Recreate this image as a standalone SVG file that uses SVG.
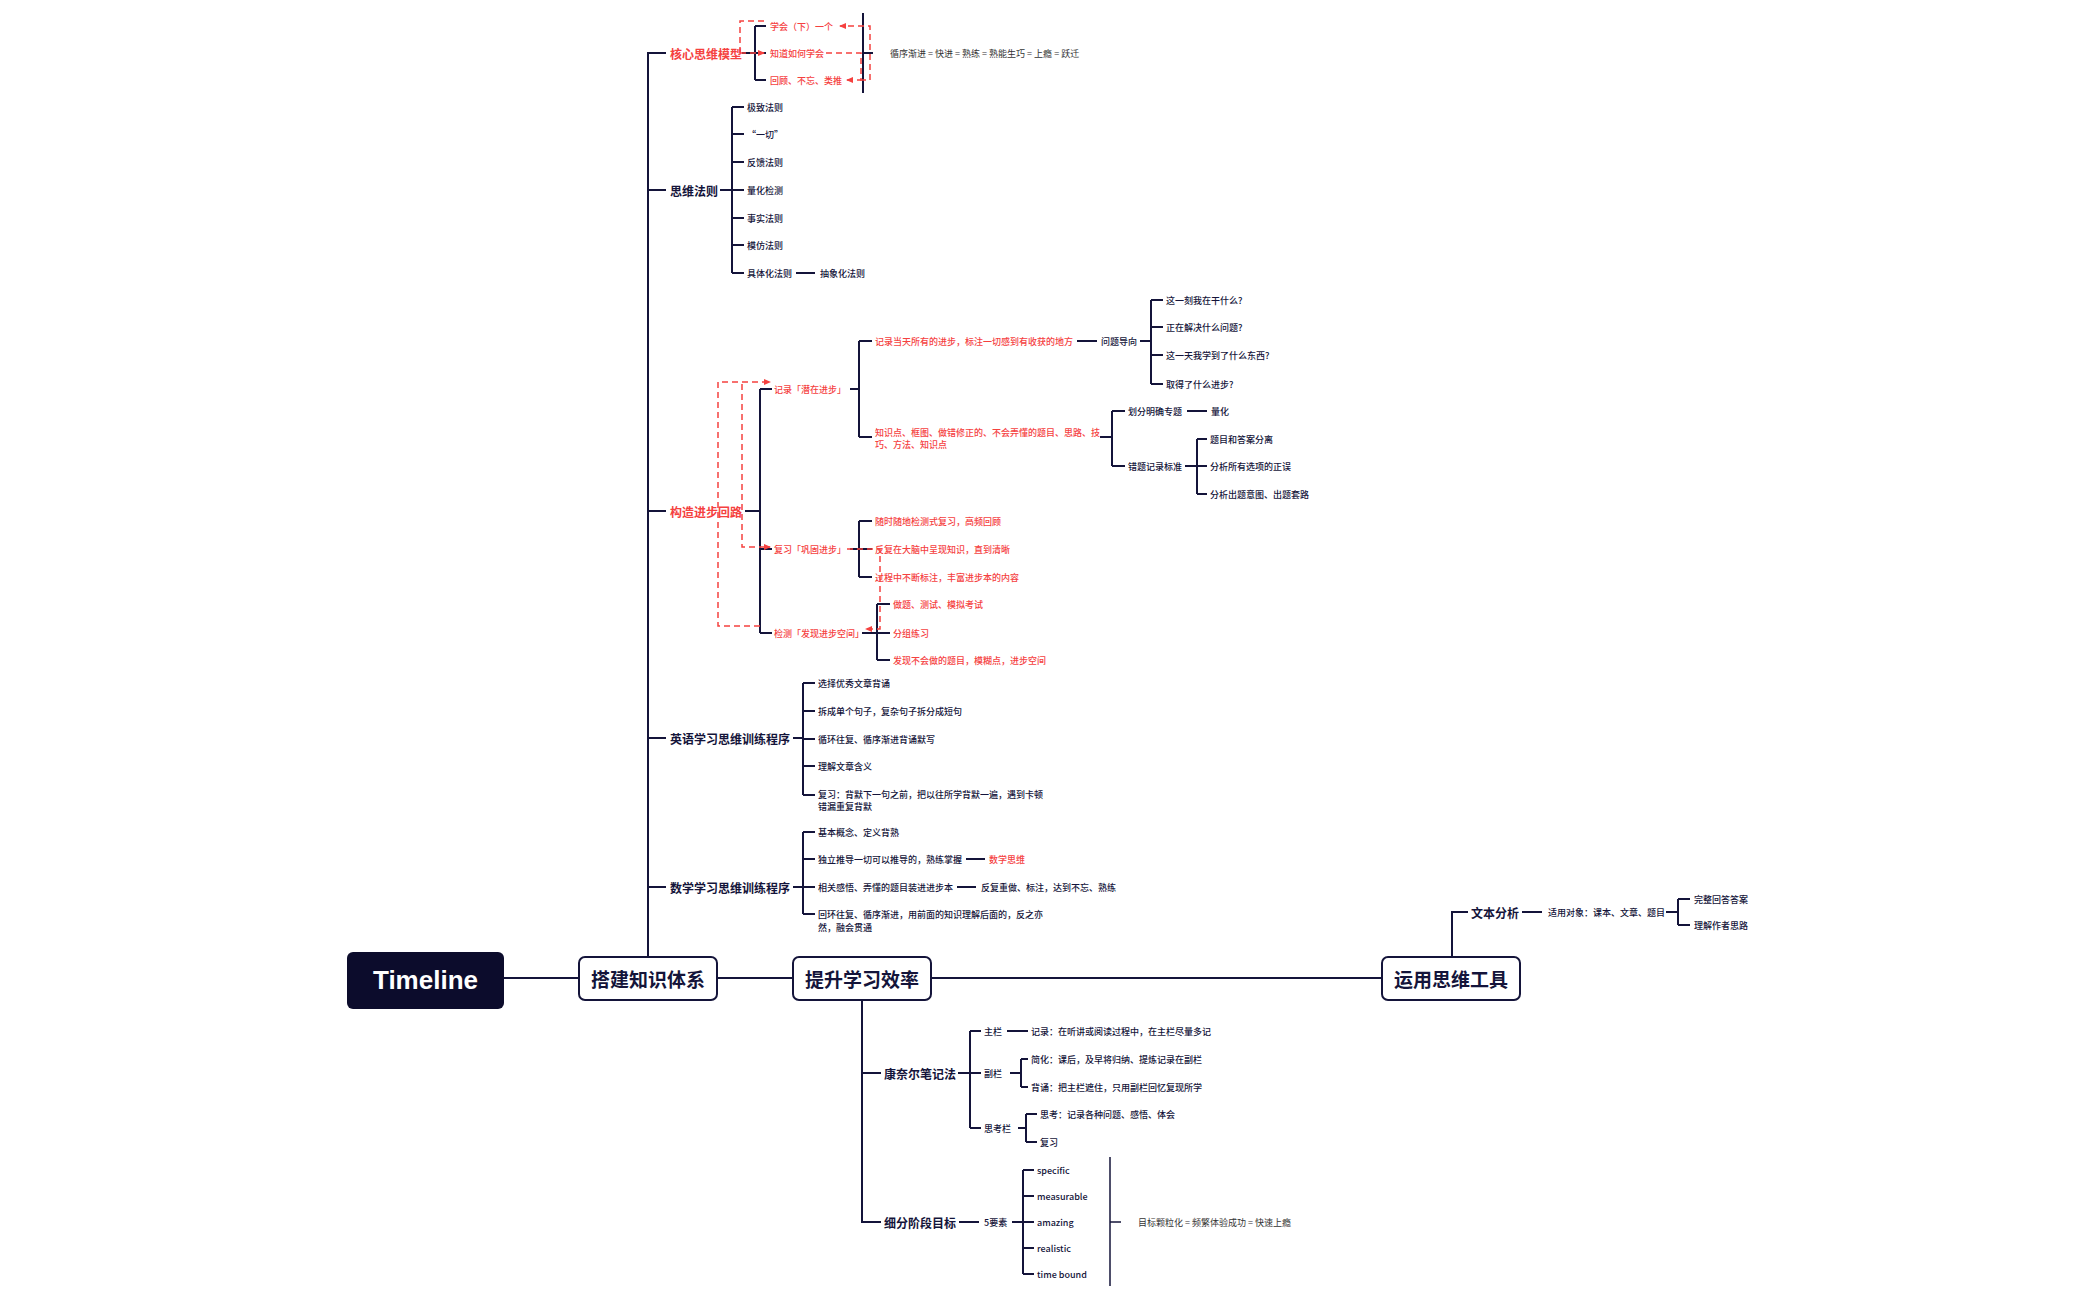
<svg xmlns="http://www.w3.org/2000/svg" width="2100" height="1299" viewBox="0 0 2100 1299">
<style>
text{font-family:"Noto Sans CJK SC","Liberation Sans",sans-serif;dominant-baseline:central;fill:#14143a}
.s{font-size:9px;font-weight:500}
.m{font-size:12px;font-weight:700}
.r{fill:#f5413f}
.g{fill:#333;font-weight:400}
.b{font-size:19px;font-weight:700;text-anchor:middle}
.ln{fill:none;stroke:#14143a;stroke-width:2}
.ln1{fill:none;stroke:#14143a;stroke-width:1.5}
.d{fill:none;stroke:#f5413f;stroke-width:1.5;stroke-dasharray:6 4}
</style>
<defs><marker id="a" markerWidth="8" markerHeight="8" refX="6" refY="4" orient="auto" markerUnits="userSpaceOnUse"><path d="M0,1 L7,4 L0,7 Z" fill="#f5413f"/></marker></defs>
<rect width="2100" height="1299" fill="#fff"/>
<g id="connectors">
<path class="ln" d="M504,978H579M717,978H793M931,978H1382"/>
<path class="ln" d="M648,957V53H666M648,190H666M648,511H666M648,738H666M648,887H666"/>
<path class="ln" d="M742,53H755M755,26V80M755,26H766M755,53H766M755,80H766"/>
<path class="ln" d="M863,13V93M863,53H873"/>
<path class="ln" d="M720,190H732M732,107V273M732,107H744M732,134H744M732,162H744M732,190H744M732,218H744M732,245H744M732,273H744M796,273H815"/>
<path class="ln" d="M745,511H760M760,389V633M760,389H772M760,549H772M760,633H772"/>
<path class="ln" d="M850,389H859M859,341V437M859,341H872M859,437H872M1077,341H1097M1140,341H1151M1151,300V384M1151,300H1163M1151,327H1163M1151,355H1163M1151,384H1163"/>
<path class="ln" d="M1100,437H1112M1112,411V466M1112,411H1125M1112,466H1125M1187,411H1207M1185,466H1197M1197,439V494M1197,439H1207M1197,466H1207M1197,494H1207"/>
<path class="ln" d="M850,549H859M859,521V577M859,521H872M859,549H872M859,577H872"/>
<path class="ln" d="M862,633H877M877,604V660M877,604H890M877,633H890M877,660H890"/>
<path class="ln" d="M793,738H803M803,683V795M803,683H815M803,711H815M803,739H815M803,766H815M803,795H815"/>
<path class="ln" d="M793,887H803M803,832V914M803,832H815M803,859H815M803,887H815M803,914H815M966,859H985M957,887H976"/>
<path class="ln" d="M862,1000V1222H881M862,1073H881M958,1073H970M970,1031V1128M970,1031H981M970,1073H981M970,1128H981M1007,1031H1028"/>
<path class="ln" d="M1010,1073H1021M1021,1059V1087M1021,1059H1028M1021,1087H1028M1018,1128H1026M1026,1114V1142M1026,1114H1037M1026,1142H1037"/>
<path class="ln" d="M959,1222H979M1012,1222H1023M1023,1170V1274M1023,1170H1034M1023,1196H1034M1023,1222H1034M1023,1248H1034M1023,1274H1034"/>
<path class="ln1" d="M1110,1157V1286M1110,1222H1121"/>
<path class="ln" d="M1452,957V912H1468M1522,912H1542M1666,912H1678M1678,899V925M1678,899H1690M1678,925H1690"/>
<path class="d" d="M740,53H764" marker-end="url(#a)"/>
<path class="d" d="M740,53V21H766"/>
<path class="d" d="M826,53H861V80H847" marker-end="url(#a)"/>
<path class="d" d="M860,80H870V26H840" marker-end="url(#a)"/>
<path class="d" d="M760,626H718V382H770" marker-end="url(#a)"/>
<path class="d" d="M742,384V547H770" marker-end="url(#a)"/>
<path class="d" d="M847,549H880V629H866" marker-end="url(#a)"/>
</g>
<g id="timeline"><rect x="347" y="952" width="157" height="57" rx="6" fill="#0c0c2c"/><text x="425.5" y="980" style="font-size:26px;font-weight:700;text-anchor:middle;fill:#fff;font-family:'Liberation Sans',sans-serif">Timeline</text></g>
<g id="n-dajian"><rect x="579" y="957" width="138" height="43" rx="6" fill="#fff" stroke="#14143a" stroke-width="2"/><text class="b" x="648" y="978">搭建知识体系</text></g>
<g id="n-tisheng"><rect x="793" y="957" width="138" height="43" rx="6" fill="#fff" stroke="#14143a" stroke-width="2"/><text class="b" x="862" y="978">提升学习效率</text></g>
<g id="n-yunyong"><rect x="1382" y="957" width="138" height="43" rx="6" fill="#fff" stroke="#14143a" stroke-width="2"/><text class="b" x="1451" y="978">运用思维工具</text></g>
<g id="n-hexin"><text class="m r" x="670" y="53">核心思维模型</text>
<text class="s r" x="770" y="26">学会（下）一个</text><text class="s r" x="770" y="53">知道如何学会</text><text class="s r" x="770" y="80">回顾、不忘、类推</text>
<text class="s g" x="890" y="53">循序渐进 = 快进 = 熟练 = 熟能生巧 = 上瘾 = 跃迁</text></g>
<g id="n-siwei"><text class="m" x="670" y="190">思维法则</text>
<text class="s" x="747" y="107">极致法则</text><text class="s" x="747" y="134">“一切”</text><text class="s" x="747" y="162">反馈法则</text><text class="s" x="747" y="190">量化检测</text><text class="s" x="747" y="218">事实法则</text><text class="s" x="747" y="245">模仿法则</text><text class="s" x="747" y="273">具体化法则</text><text class="s" x="820" y="273">抽象化法则</text></g>
<g id="n-gouzao"><text class="m r" x="670" y="511">构造进步回路</text>
<text class="s r" x="774" y="389">记录「潜在进步」</text><text class="s r" x="774" y="549">复习「巩固进步」</text><text class="s r" x="774" y="633">检测「发现进步空间」</text>
<text class="s r" x="875" y="341">记录当天所有的进步，标注一切感到有收获的地方</text><text class="s" x="1101" y="341">问题导向</text>
<text class="s" x="1166" y="300">这一刻我在干什么?</text><text class="s" x="1166" y="327">正在解决什么问题?</text><text class="s" x="1166" y="355">这一天我学到了什么东西?</text><text class="s" x="1166" y="384">取得了什么进步?</text>
<text class="s r" x="875" y="432">知识点、框图、做错修正的、不会弄懂的题目、思路、技</text><text class="s r" x="875" y="444">巧、方法、知识点</text>
<text class="s" x="1128" y="411">划分明确专题</text><text class="s" x="1211" y="411">量化</text><text class="s" x="1128" y="466">错题记录标准</text>
<text class="s" x="1210" y="439">题目和答案分离</text><text class="s" x="1210" y="466">分析所有选项的正误</text><text class="s" x="1210" y="494">分析出题意图、出题套路</text>
<text class="s r" x="875" y="521">随时随地检测式复习，高频回顾</text><text class="s r" x="875" y="549">反复在大脑中呈现知识，直到清晰</text><text class="s r" x="875" y="577">过程中不断标注，丰富进步本的内容</text>
<text class="s r" x="893" y="604">做题、测试、模拟考试</text><text class="s r" x="893" y="633">分组练习</text><text class="s r" x="893" y="660">发现不会做的题目，模糊点，进步空间</text></g>
<g id="n-yingyu"><text class="m" x="670" y="738">英语学习思维训练程序</text>
<text class="s" x="818" y="683">选择优秀文章背诵</text><text class="s" x="818" y="711">拆成单个句子，复杂句子拆分成短句</text><text class="s" x="818" y="739">循环往复、循序渐进背诵默写</text><text class="s" x="818" y="766">理解文章含义</text>
<text class="s" x="818" y="794">复习：背默下一句之前，把以往所学背默一遍，遇到卡顿</text><text class="s" x="818" y="806">错漏重复背默</text></g>
<g id="n-shuxue"><text class="m" x="670" y="887">数学学习思维训练程序</text>
<text class="s" x="818" y="832">基本概念、定义背熟</text><text class="s" x="818" y="859">独立推导一切可以推导的，熟练掌握</text><text class="s r" x="989" y="859">数学思维</text>
<text class="s" x="818" y="887">相关感悟、弄懂的题目装进进步本</text><text class="s" x="981" y="887">反复重做、标注，达到不忘、熟练</text>
<text class="s" x="818" y="914">回环往复、循序渐进，用前面的知识理解后面的，反之亦</text><text class="s" x="818" y="927">然，融会贯通</text></g>
<g id="n-kangnaier"><text class="m" x="884" y="1073">康奈尔笔记法</text>
<text class="s" x="984" y="1031">主栏</text><text class="s" x="1031" y="1031">记录：在听讲或阅读过程中，在主栏尽量多记</text>
<text class="s" x="984" y="1073">副栏</text><text class="s" x="1031" y="1059">简化：课后，及早将归纳、提炼记录在副栏</text><text class="s" x="1031" y="1087">背诵：把主栏遮住，只用副栏回忆复现所学</text>
<text class="s" x="984" y="1128">思考栏</text><text class="s" x="1040" y="1114">思考：记录各种问题、感悟、体会</text><text class="s" x="1040" y="1142">复习</text></g>
<g id="n-xifen"><text class="m" x="884" y="1222">细分阶段目标</text><text class="s" x="984" y="1222">5要素</text>
<text class="s" x="1037" y="1170">specific</text><text class="s" x="1037" y="1196">measurable</text><text class="s" x="1037" y="1222">amazing</text><text class="s" x="1037" y="1248">realistic</text><text class="s" x="1037" y="1274">time bound</text>
<text class="s g" x="1138" y="1222">目标颗粒化 = 频繁体验成功 = 快速上瘾</text></g>
<g id="n-wenben"><text class="m" x="1471" y="912">文本分析</text><text class="s" x="1548" y="912">适用对象：课本、文章、题目</text>
<text class="s" x="1694" y="899">完整回答答案</text><text class="s" x="1694" y="925">理解作者思路</text></g>
</svg>
